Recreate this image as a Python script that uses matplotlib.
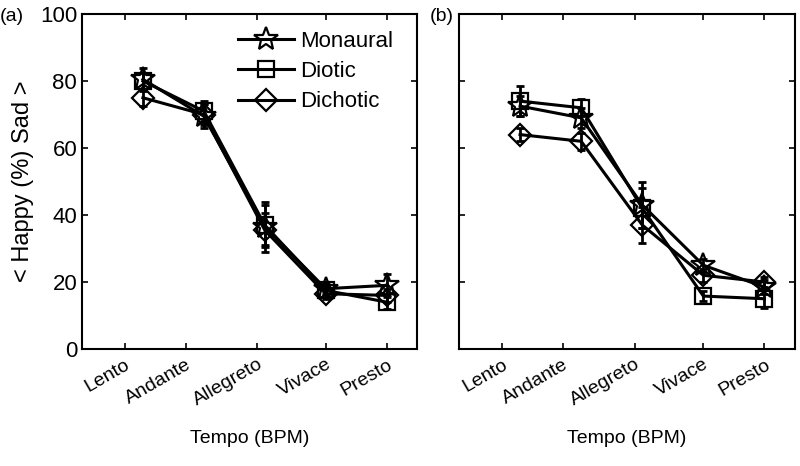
import numpy as np
import matplotlib
matplotlib.use('Agg')
import matplotlib.pyplot as plt

plt.rcParams['font.family'] = ['Liberation Sans', 'DejaVu Sans']

tempos = ['Lento', 'Andante', 'Allegreto', 'Vivace', 'Presto']
tick_pos = [0.7, 1.7, 2.88, 4.0, 5.0]
conditions = ['Monaural', 'Diotic', 'Dichotic']
markers = ['*', 's', 'D']
msizes = [18, 11, 11]

# panel (a)
a_mon = [80.5, 69.5, 36.5, 18.0, 19.0]
a_dio = [80.0, 71.0, 37.0, 17.5, 14.0]
a_dic = [75.0, 70.0, 35.5, 16.5, 16.0]
a_mon_err = [3.5, 3.5, 7.5, 1.5, 3.5]
a_dio_err = [2.5, 3.0, 6.0, 1.5, 2.0]
a_dic_err = [2.5, 3.0, 5.0, 1.5, 2.0]

# panel (b)
b_mon = [72.5, 69.0, 43.0, 25.0, 18.5]
b_dio = [74.0, 72.0, 42.0, 15.8, 15.0]
b_dic = [64.0, 62.0, 37.0, 22.0, 20.0]
b_mon_err = [3.0, 3.0, 7.0, 2.0, 2.0]
b_dio_err = [4.5, 2.5, 6.0, 1.5, 2.8]
b_dic_err = [2.0, 2.5, 5.5, 2.0, 1.5]

x = np.arange(1, 6)

fig = plt.figure(figsize=(8, 4.66), dpi=100)
ax_a = fig.add_axes([82/800, 117/466, 335/800, 335/466])
ax_b = fig.add_axes([459/800, 117/466, 336/800, 335/466])

panels = [
    (ax_a, [a_mon, a_dio, a_dic], [a_mon_err, a_dio_err, a_dic_err]),
    (ax_b, [b_mon, b_dio, b_dic], [b_mon_err, b_dio_err, b_dic_err]),
]

for ax, series, errs in panels:
    for vals, err, m, ms, lab in zip(series, errs, markers, msizes, conditions):
        ax.errorbar(x, vals, yerr=err, fmt='none', ecolor='black',
                    elinewidth=2, capsize=3, capthick=2)
        ax.plot(x, vals, color='black', lw=2.2, marker=m, ms=ms,
                mfc='none', mec='black', mew=1.6, label=lab)
    ax.set_xlim(0, 5.5)
    ax.set_ylim(0, 100)
    ax.set_yticks([0, 20, 40, 60, 80, 100])
    ax.set_xticks(tick_pos)
    ax.set_xticklabels(tempos, rotation=30, ha='right', va='top',
                       rotation_mode='anchor', fontsize=14)
    ax.tick_params(direction='in', top=True, right=True, length=4, width=1.2,
                   labelsize=16)
    ax.tick_params(axis='x', labelsize=14, pad=5)
    for sp in ax.spines.values():
        sp.set_linewidth(1.5)
    ax.set_xlabel('Tempo (BPM)', fontsize=14, labelpad=15)

ax_a.set_ylabel('< Happy (%) Sad >', fontsize=17, labelpad=4)
ax_b.set_yticklabels([])

ax_a.legend(loc='upper right', frameon=False, fontsize=16, handlelength=2.5,
            borderaxespad=0.05, labelspacing=0.42, handletextpad=0.3,
            bbox_to_anchor=(0.96, 0.98))

fig.text(0.0, 0.965, '(a)', fontsize=14, va='center', ha='left')
fig.text(0.537, 0.965, '(b)', fontsize=14, va='center', ha='left')

fig.savefig('out.png', dpi=100)
